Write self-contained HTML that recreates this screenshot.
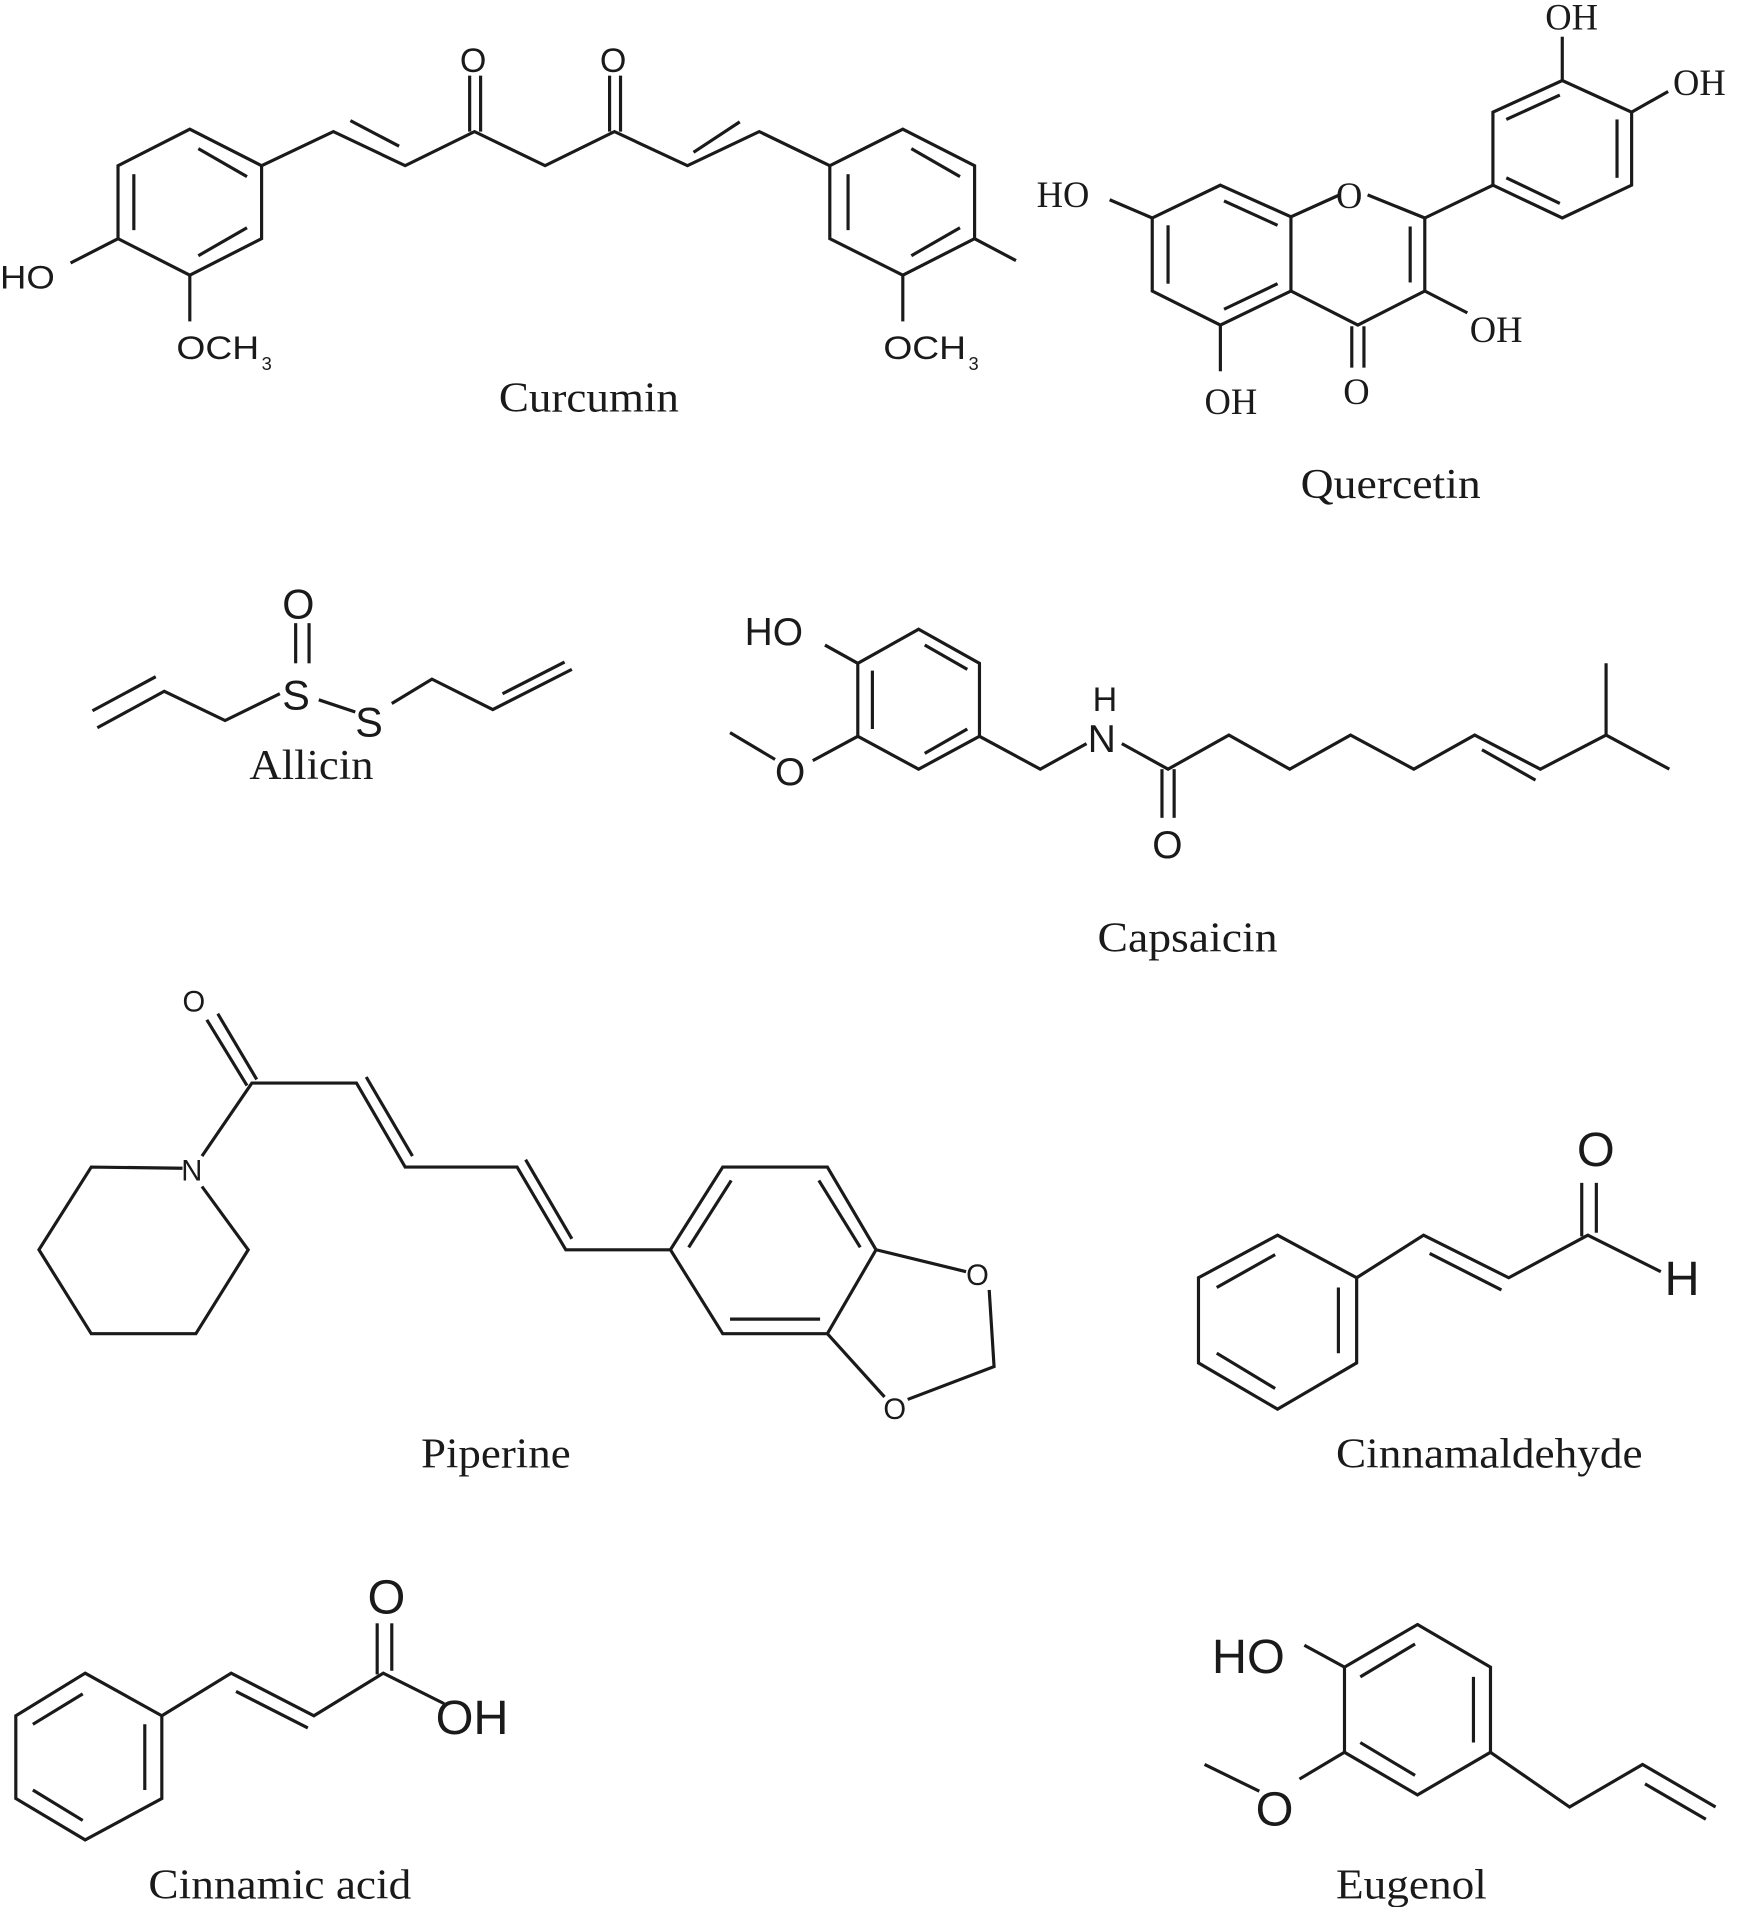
<!DOCTYPE html>
<html><head><meta charset="utf-8"><style>
html,body{margin:0;padding:0;background:#fff}
svg{display:block}
.s{font-family:"Liberation Serif",serif}
.a{font-family:"Liberation Sans",sans-serif}
</style></head><body>
<svg width="1746" height="1907" viewBox="0 0 1435 1567" xmlns="http://www.w3.org/2000/svg">
<g fill="none" stroke="#1a1a1a" stroke-width="2.6" stroke-linejoin="miter" stroke-linecap="butt">
<!-- Curcumin -->
<polygon points="156,106 215,136 215,196 156,226 97,196 97,136"/>
<line x1="110" y1="143" x2="110" y2="189"/><line x1="163" y1="122" x2="203" y2="145"/><line x1="163" y1="210" x2="203" y2="187"/>
<polyline points="58,216 97,196"/><polyline points="156,226 156,264"/>
<polyline points="215,136 274,108 333,136 390,108 448,136 505,108 565,136 624,108 682,136"/>
<line x1="288" y1="99" x2="328" y2="120"/><line x1="570" y1="125" x2="608" y2="100"/>
<line x1="386" y1="108" x2="386" y2="62"/><line x1="395" y1="108" x2="395" y2="62"/>
<line x1="501" y1="108" x2="501" y2="62"/><line x1="510" y1="108" x2="510" y2="62"/>
<polygon points="742,106 801,136 801,196 742,226 682,196 682,136"/>
<line x1="697" y1="143" x2="697" y2="189"/><line x1="749" y1="122" x2="789" y2="145"/><line x1="749" y1="210" x2="789" y2="187"/>
<polyline points="801,196 835,214"/><polyline points="742,226 742,264"/>
<!-- Quercetin -->
<polygon points="1003,152 1061,178 1061,239 1003,267 947,239 947,179"/>
<line x1="960" y1="185" x2="960" y2="233"/><line x1="1006" y1="165" x2="1050" y2="185"/><line x1="1006" y1="254" x2="1050" y2="233"/>
<polyline points="1061,178 1101,160"/><polyline points="1124,160 1171,179 1171,239 1116,267 1061,239"/>
<line x1="1159" y1="186" x2="1159" y2="232"/>
<line x1="1111" y1="268" x2="1111" y2="302"/><line x1="1121" y1="268" x2="1121" y2="302"/>
<polyline points="947,179 912,164"/><polyline points="1003,267 1003,305"/><polyline points="1171,239 1206,257"/>
<polyline points="1171,179 1227,152"/>
<polygon points="1227,152 1227,92 1284,66 1341,92 1341,152 1284,179"/>
<line x1="1238" y1="98" x2="1282" y2="78"/><line x1="1329" y1="98" x2="1329" y2="146"/><line x1="1238" y1="146" x2="1282" y2="167"/>
<polyline points="1284,66 1284,30"/><polyline points="1341,92 1371,75"/>
<!-- Allicin -->
<polyline points="80,598 135,568 185,592 230,570"/><line x1="76" y1="584" x2="128" y2="556"/>
<line x1="243" y1="512" x2="243" y2="545"/><line x1="254" y1="512" x2="254" y2="545"/>
<polyline points="262,575 292,585"/>
<polyline points="322,578 355,558 405,583 470,550"/><line x1="413" y1="570" x2="464" y2="544"/>
<!-- Capsaicin -->
<polygon points="755,517 805,545 805,605 755,632 705,605 705,545"/>
<line x1="717" y1="551" x2="717" y2="599"/><line x1="760" y1="530" x2="795" y2="550"/><line x1="760" y1="619" x2="795" y2="599"/>
<polyline points="705,545 678,530"/><polyline points="705,605 668,625"/><polyline points="637,624 600,602"/>
<polyline points="805,605 855,632 893,611"/><polyline points="922,611 960,632 1010,604 1060,632 1110,604 1162,632 1212,604 1266,632 1320,604 1372,632"/>
<line x1="1218" y1="616" x2="1262" y2="641"/>
<polyline points="1320,604 1320,545"/>
<line x1="955" y1="632" x2="955" y2="672"/><line x1="965" y1="632" x2="965" y2="672"/>
<!-- Piperine -->
<line x1="170" y1="838" x2="203" y2="892"/><line x1="179" y1="833" x2="211" y2="887"/>
<polyline points="166,950 207,890 293,890 333,959 425,959 465,1027 551,1027"/>
<line x1="301" y1="885" x2="339" y2="950"/><line x1="432" y1="953" x2="470" y2="1018"/>
<polyline points="150,960 75,959 32,1027 75,1096 161,1096 204,1027 166,975"/>
<polygon points="551,1027 594,959 680,959 720,1027 680,1096 594,1096"/>
<line x1="566" y1="1025" x2="601" y2="970"/><line x1="673" y1="970" x2="707" y2="1025"/><line x1="600" y1="1084" x2="674" y2="1084"/>
<polyline points="720,1027 794,1045"/><polyline points="680,1096 727,1148"/>
<polyline points="813,1060 817,1123 746,1150"/>
<!-- Cinnamaldehyde -->
<polygon points="1050,1015 1115,1050 1115,1120 1050,1158 985,1120 985,1050"/>
<line x1="1100" y1="1058" x2="1100" y2="1112"/><line x1="1000" y1="1058" x2="1048" y2="1031"/><line x1="1000" y1="1112" x2="1048" y2="1141"/>
<polyline points="1115,1050 1170,1015 1240,1050 1305,1015 1365,1045"/><line x1="1175" y1="1030" x2="1234" y2="1060"/>
<line x1="1300" y1="1016" x2="1300" y2="972"/><line x1="1312" y1="1013" x2="1312" y2="972"/>
<!-- Cinnamic acid -->
<polygon points="70,1375 133,1410 133,1478 70,1512 13,1478 13,1410"/>
<line x1="119" y1="1417" x2="119" y2="1471"/><line x1="27" y1="1417" x2="68" y2="1392"/><line x1="27" y1="1471" x2="68" y2="1496"/>
<polyline points="133,1410 190,1375 258,1410 315,1375 365,1400"/><line x1="194" y1="1390" x2="253" y2="1420"/>
<line x1="310" y1="1376" x2="310" y2="1334"/><line x1="322" y1="1373" x2="322" y2="1334"/>
<!-- Eugenol -->
<polygon points="1165,1335 1225,1370 1225,1440 1165,1475 1105,1440 1105,1370"/>
<line x1="1211" y1="1378" x2="1211" y2="1432"/><line x1="1118" y1="1432" x2="1163" y2="1459"/><line x1="1118" y1="1378" x2="1163" y2="1351"/>
<polyline points="1105,1370 1072,1352"/><polyline points="1105,1440 1068,1462"/><polyline points="1035,1472 990,1450"/>
<polyline points="1225,1440 1290,1485 1350,1450 1410,1485"/><line x1="1352" y1="1466" x2="1402" y2="1495"/>
</g>
<g fill="#1a1a1a">
<text class="a" x="0" y="237" font-size="27" textLength="45" lengthAdjust="spacingAndGlyphs">HO</text>
<text class="a" x="145" y="295" font-size="27" textLength="68" lengthAdjust="spacingAndGlyphs">OCH</text><text class="a" x="215" y="304" font-size="15">3</text>
<text class="a" x="726" y="295" font-size="27" textLength="68" lengthAdjust="spacingAndGlyphs">OCH</text><text class="a" x="796" y="304" font-size="15">3</text>
<text class="a" x="378" y="59" font-size="28">O</text>
<text class="a" x="493" y="59" font-size="28">O</text>
<text class="s" x="410" y="338" font-size="35" textLength="148" lengthAdjust="spacingAndGlyphs">Curcumin</text>
<text class="s" x="852" y="170" font-size="30">HO</text>
<text class="s" x="1098" y="171" font-size="30">O</text>
<text class="s" x="1270" y="24" font-size="30">OH</text>
<text class="s" x="1375" y="78" font-size="30">OH</text>
<text class="s" x="1208" y="281" font-size="30">OH</text>
<text class="s" x="990" y="340" font-size="30">OH</text>
<text class="s" x="1104" y="332" font-size="30">O</text>
<text class="s" x="1069" y="409" font-size="35" textLength="148" lengthAdjust="spacingAndGlyphs">Quercetin</text>
<text class="a" x="232" y="508" font-size="34">O</text>
<text class="a" x="232" y="583" font-size="34">S</text>
<text class="a" x="292" y="605" font-size="34">S</text>
<text class="s" x="205" y="640" font-size="35" textLength="102" lengthAdjust="spacingAndGlyphs">Allicin</text>
<text class="a" x="612" y="530" font-size="32">HO</text>
<text class="a" x="637" y="645" font-size="32">O</text>
<text class="a" x="894" y="618" font-size="32">N</text>
<text class="a" x="898" y="584" font-size="28">H</text>
<text class="a" x="947" y="705" font-size="32">O</text>
<text class="s" x="902" y="782" font-size="35" textLength="148" lengthAdjust="spacingAndGlyphs">Capsaicin</text>
<text class="a" x="150" y="831" font-size="24">O</text>
<text class="a" x="149" y="970" font-size="24">N</text>
<text class="a" x="794" y="1056" font-size="24">O</text>
<text class="a" x="726" y="1166" font-size="24">O</text>
<text class="s" x="346" y="1206" font-size="35" textLength="123" lengthAdjust="spacingAndGlyphs">Piperine</text>
<text class="a" x="1296" y="958" font-size="40">O</text>
<text class="a" x="1368" y="1064" font-size="40">H</text>
<text class="s" x="1098" y="1206" font-size="35" textLength="252" lengthAdjust="spacingAndGlyphs">Cinnamaldehyde</text>
<text class="a" x="302" y="1326" font-size="40">O</text>
<text class="a" x="358" y="1425" font-size="40">OH</text>
<text class="s" x="122" y="1560" font-size="35" textLength="216" lengthAdjust="spacingAndGlyphs">Cinnamic acid</text>
<text class="a" x="996" y="1375" font-size="40">HO</text>
<text class="a" x="1032" y="1500" font-size="40">O</text>
<text class="s" x="1098" y="1560" font-size="35" textLength="124" lengthAdjust="spacingAndGlyphs">Eugenol</text>
</g>
</svg>
</body></html>
